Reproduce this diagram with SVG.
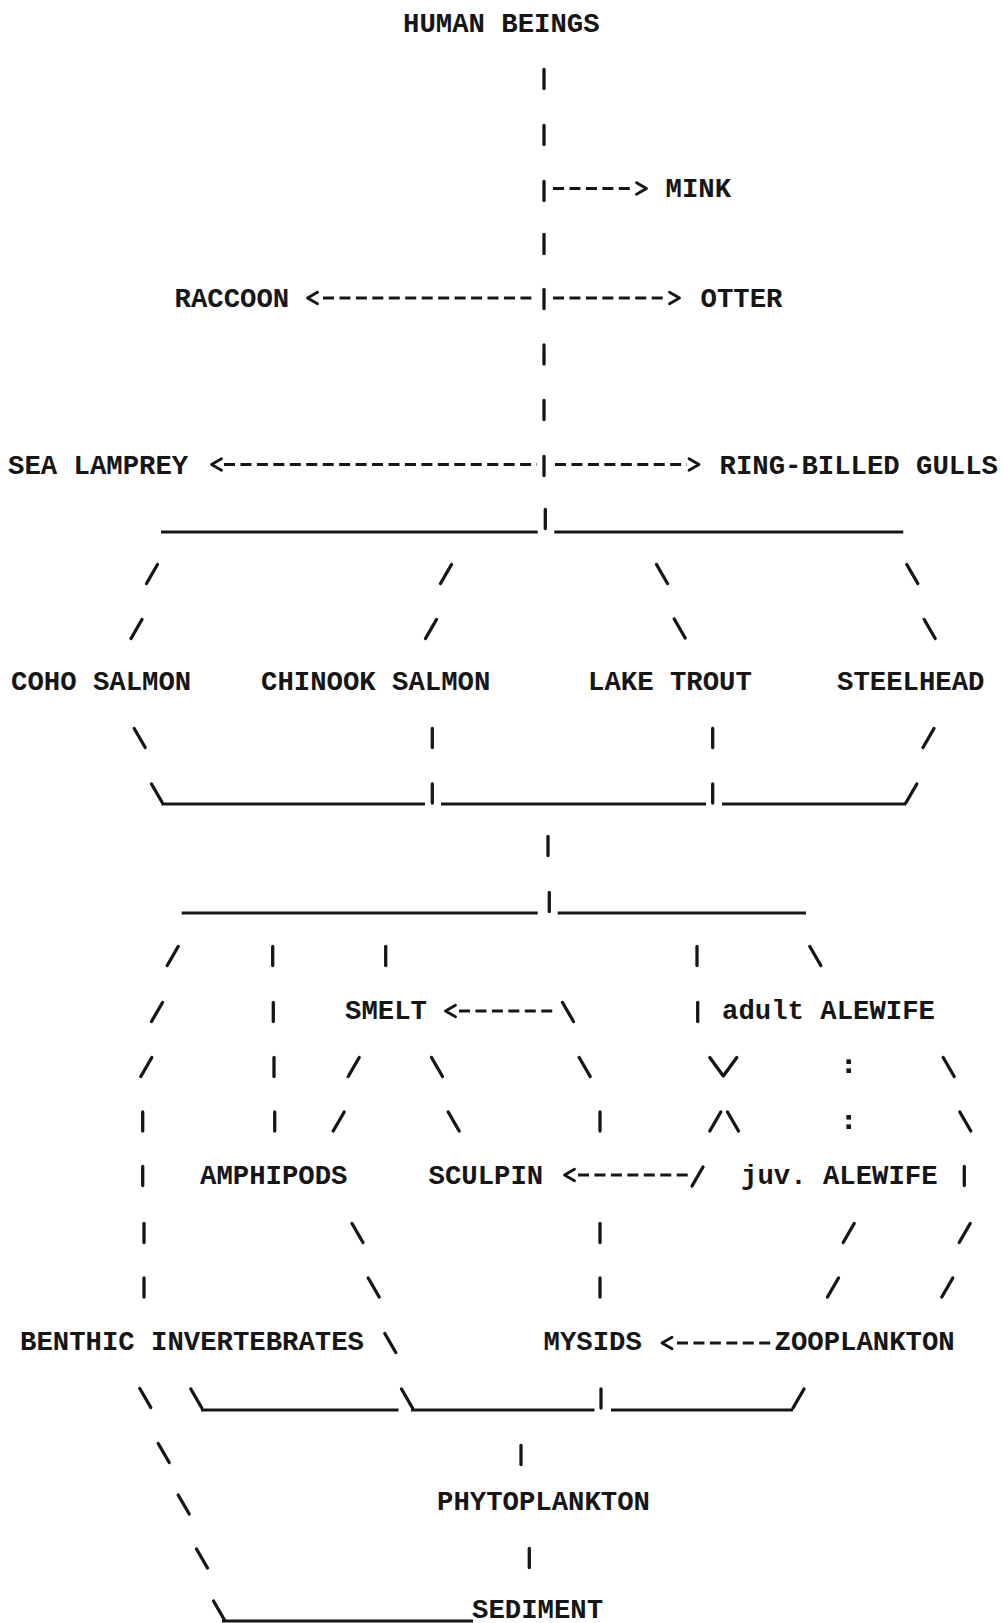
<svg xmlns="http://www.w3.org/2000/svg" xmlns:xlink="http://www.w3.org/1999/xlink" width="1003" height="1623" viewBox="0 0 1003 1623">
  <style>
    .t { font-family: "Liberation Mono", "DejaVu Sans Mono", monospace; font-weight: bold; font-size: 27.3px; fill: #161616; }
    .ink { stroke: #161616; fill: none; stroke-width: 3.3; stroke-linecap: round; stroke-linejoin: round; }
    .ink .u { stroke-width: 3; stroke-linecap: butt; }
    .ink .d { stroke-width: 3; stroke-linecap: butt; stroke-dasharray: 11 5.45; }
    .ink .h { stroke-width: 2.8; }
    .dot { fill: #161616; stroke: none; }
  </style>
  <defs>
    <!-- typewriter-style strokes: x,y of each use is the top-left of the ink -->
    <path id="vb" d="M0,1.5 V20.5"/>
    <path id="fs" d="M1.5,20.5 L12.5,1.5"/>
    <path id="bs" d="M1.5,1.5 L12.5,20.5"/>
    <path id="lt" d="M11.5,-5.8 L1.5,0 L11.5,5.8"/>
    <path id="gt" d="M1.5,-5.8 L11.5,0 L1.5,5.8"/>
    <path id="vee" d="M1.5,1.5 L15,20 L28.5,1.5"/>
    <rect id="dt" x="-2.3" y="-2.3" width="4.6" height="4.6"/>
  </defs>

  <rect width="1003" height="1623" fill="#ffffff"/>

  <g id="connectors" class="ink">
    <!-- trunk from human beings down to the gulls / lamprey level -->
    <use href="#vb" x="544" y="68"/>
    <use href="#vb" x="544" y="124"/>
    <use href="#vb" x="544" y="180"/>
    <line class="d" x1="553" y1="188.5" x2="633" y2="188.5"/>
    <use class="h" href="#gt" x="635" y="188.5"/>
    <use href="#vb" x="544" y="233"/>
    <use href="#vb" x="544" y="288"/>
    <use class="h" href="#lt" x="306" y="298"/>
    <line class="d" x1="323" y1="298" x2="534" y2="298"/>
    <line class="d" x1="553" y1="298" x2="664" y2="298"/>
    <use class="h" href="#gt" x="668" y="298"/>
    <use href="#vb" x="544" y="343.5"/>
    <use href="#vb" x="544" y="399"/>
    <use href="#vb" x="544" y="455"/>
    <use class="h" href="#lt" x="210" y="464.5"/>
    <line class="d" x1="224" y1="464.5" x2="537" y2="464.5"/>
    <line class="d" x1="555" y1="464.5" x2="687" y2="464.5"/>
    <use class="h" href="#gt" x="687.5" y="464.5"/>

    <!-- split to the four salmonids -->
    <use href="#vb" x="545.3" y="508"/>
    <line class="u" x1="161" y1="532" x2="537.7" y2="532"/>
    <line class="u" x1="554.3" y1="532" x2="903.3" y2="532"/>
    <use href="#fs" x="145" y="563"/>
    <use href="#fs" x="439" y="563"/>
    <use href="#bs" x="655" y="563"/>
    <use href="#bs" x="905.3" y="563"/>
    <use href="#fs" x="129.5" y="618"/>
    <use href="#fs" x="424" y="618"/>
    <use href="#bs" x="672.7" y="617.5"/>
    <use href="#bs" x="922.7" y="618"/>

    <!-- salmonids rejoin -->
    <use href="#bs" x="132.7" y="727"/>
    <use href="#vb" x="432.3" y="727"/>
    <use href="#vb" x="712.7" y="727"/>
    <use href="#fs" x="921.5" y="727"/>
    <use href="#bs" x="150" y="782.5"/>
    <line class="u" x1="161.5" y1="804" x2="425" y2="804"/>
    <use href="#vb" x="432.3" y="782.5"/>
    <line class="u" x1="441" y1="804" x2="706" y2="804"/>
    <use href="#vb" x="712.7" y="782.5"/>
    <line class="u" x1="722" y1="804" x2="906" y2="804"/>
    <use href="#fs" x="904.3" y="782.5"/>
    <use href="#vb" x="548" y="835"/>

    <!-- split to the forage fish and invertebrates -->
    <use href="#vb" x="549.3" y="891"/>
    <line class="u" x1="181.7" y1="913" x2="537.7" y2="913"/>
    <line class="u" x1="557.7" y1="913" x2="806" y2="913"/>
    <use href="#fs" x="165.7" y="945"/>
    <use href="#vb" x="272.7" y="945"/>
    <use href="#vb" x="385.7" y="945"/>
    <use href="#vb" x="697" y="945"/>
    <use href="#bs" x="808.3" y="945"/>

    <use href="#fs" x="150" y="1001"/>
    <use href="#vb" x="273.3" y="1001"/>
    <use class="h" href="#lt" x="444" y="1011"/>
    <line class="d" x1="459" y1="1011" x2="557.7" y2="1011"/>
    <use href="#bs" x="561" y="1001"/>
    <use href="#vb" x="697.7" y="1001"/>

    <use href="#fs" x="139.3" y="1056"/>
    <use href="#vb" x="274" y="1056"/>
    <use href="#fs" x="346.7" y="1056"/>
    <use href="#bs" x="430" y="1056"/>
    <use href="#bs" x="577.7" y="1056"/>
    <use href="#vee" x="708.3" y="1056"/>
    <use class="dot" href="#dt" x="848.7" y="1061.7"/>
    <use class="dot" href="#dt" x="848.7" y="1070.7"/>
    <use href="#bs" x="941.7" y="1056"/>

    <use href="#vb" x="142.7" y="1110.5"/>
    <use href="#vb" x="274.7" y="1110.5"/>
    <use href="#fs" x="331.7" y="1110.5"/>
    <use href="#bs" x="446.7" y="1110.5"/>
    <use href="#vb" x="600" y="1110.5"/>
    <use href="#fs" x="708.3" y="1110.5"/>
    <use href="#bs" x="726" y="1110.5"/>
    <use class="dot" href="#dt" x="848.7" y="1117.3"/>
    <use class="dot" href="#dt" x="848.7" y="1126.7"/>
    <use href="#bs" x="958.3" y="1110.5"/>

    <use href="#vb" x="142.7" y="1165"/>
    <use class="h" href="#lt" x="563" y="1175"/>
    <line class="d" x1="578" y1="1175" x2="687.7" y2="1175"/>
    <use href="#fs" x="690.5" y="1165.5"/>
    <use href="#vb" x="964.3" y="1165"/>

    <use href="#vb" x="144" y="1222"/>
    <use href="#bs" x="350.5" y="1222"/>
    <use href="#vb" x="600" y="1222"/>
    <use href="#fs" x="841.7" y="1222"/>
    <use href="#fs" x="957.7" y="1222"/>

    <use href="#vb" x="144" y="1276.5"/>
    <use href="#bs" x="366.7" y="1276.5"/>
    <use href="#vb" x="600" y="1276.5"/>
    <use href="#fs" x="826" y="1276.5"/>
    <use href="#fs" x="940.3" y="1276.5"/>

    <use href="#bs" x="383.3" y="1332"/>
    <use class="h" href="#lt" x="660.5" y="1343"/>
    <line class="d" x1="677" y1="1343" x2="772" y2="1343"/>

    <!-- invertebrates and zooplankton down to phytoplankton -->
    <use href="#bs" x="138.3" y="1387"/>
    <use href="#bs" x="189.3" y="1387.5"/>
    <line class="u" x1="201" y1="1410" x2="398.5" y2="1410"/>
    <use href="#bs" x="400" y="1387.5"/>
    <line class="u" x1="411" y1="1410" x2="594.5" y2="1410"/>
    <use href="#vb" x="601" y="1387.5"/>
    <line class="u" x1="611" y1="1410" x2="793" y2="1410"/>
    <use href="#fs" x="791.5" y="1387.5"/>

    <use href="#bs" x="156.7" y="1442"/>
    <use href="#vb" x="521" y="1444"/>
    <use href="#bs" x="176.7" y="1493.5"/>
    <use href="#bs" x="195" y="1547.5"/>
    <use href="#vb" x="529.3" y="1547"/>
    <use href="#bs" x="212" y="1599.5"/>
    <line class="u" x1="222" y1="1621" x2="473" y2="1621"/>
  </g>

  <g id="human-beings"><text class="t" x="403" y="32">HUMAN BEINGS</text></g>
  <g id="mink"><text class="t" x="665.5" y="197">MINK</text></g>
  <g id="raccoon"><text class="t" x="174.5" y="307">RACCOON</text></g>
  <g id="otter"><text class="t" x="700.5" y="307">OTTER</text></g>
  <g id="sea-lamprey"><text class="t" x="8" y="473.5">SEA LAMPREY</text></g>
  <g id="ring-billed-gulls"><text class="t" x="719.5" y="473.5">RING-BILLED GULLS</text></g>
  <g id="coho-salmon"><text class="t" x="11" y="690">COHO SALMON</text></g>
  <g id="chinook-salmon"><text class="t" x="261" y="690">CHINOOK SALMON</text></g>
  <g id="lake-trout"><text class="t" x="588" y="690">LAKE TROUT</text></g>
  <g id="steelhead"><text class="t" x="837" y="690">STEELHEAD</text></g>
  <g id="smelt"><text class="t" x="345" y="1018.5">SMELT</text></g>
  <g id="adult-alewife"><text class="t" x="722" y="1018.5">adult ALEWIFE</text></g>
  <g id="amphipods"><text class="t" x="200" y="1183.5">AMPHIPODS</text></g>
  <g id="sculpin"><text class="t" x="428.5" y="1183.5">SCULPIN</text></g>
  <g id="juv-alewife"><text class="t" x="741" y="1183.5">juv. ALEWIFE</text></g>
  <g id="benthic-invertebrates"><text class="t" x="20" y="1350">BENTHIC INVERTEBRATES</text></g>
  <g id="mysids"><text class="t" x="543.5" y="1350">MYSIDS</text></g>
  <g id="zooplankton"><text class="t" x="774.5" y="1350">ZOOPLANKTON</text></g>
  <g id="phytoplankton"><text class="t" x="437" y="1510">PHYTOPLANKTON</text></g>
  <g id="sediment"><text class="t" x="472" y="1618">SEDIMENT</text></g>
</svg>
